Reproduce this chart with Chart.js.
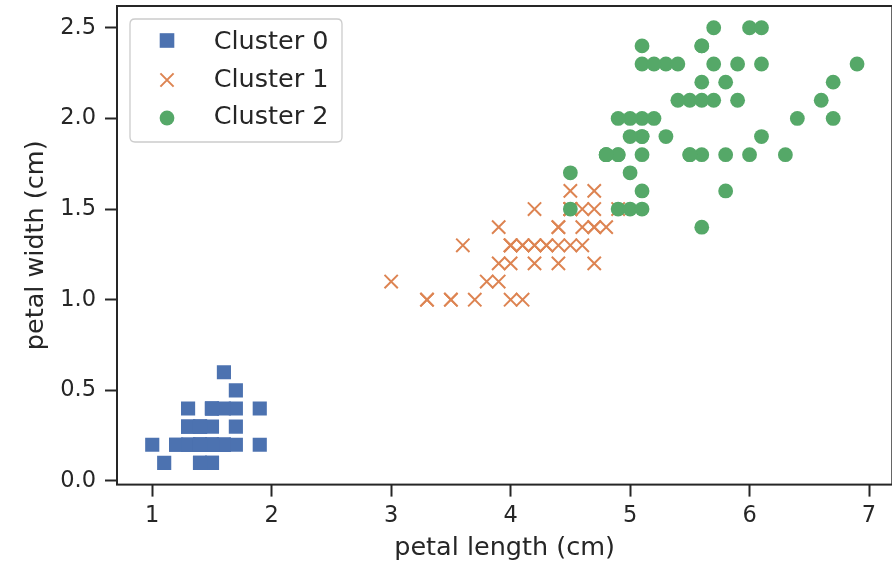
<!DOCTYPE html>
<html>
<head>
<meta charset="utf-8">
<script src="https://cdn.jsdelivr.net/npm/chart.js"></script>
<style>
html,body{margin:0;padding:0;overflow:hidden;background:#ffffff;}
#wrap{width:894px;height:563px;}
</style>
</head>
<body>
<div id="wrap"><canvas id="c" width="894" height="563"></canvas></div>
<script>
// ---------- data ----------
const clusterNames = ['Cluster 0', 'Cluster 1', 'Cluster 2'];

const cluster0Length = [1.4,1.4,1.3,1.5,1.4,1.7,1.4,1.5,1.4,1.5,1.5,1.6,1.4,1.1,1.2,1.5,1.3,1.4,1.7,1.5,
                        1.7,1.5,1.0,1.7,1.9,1.6,1.6,1.5,1.4,1.6,1.6,1.5,1.5,1.4,1.5,1.2,1.3,1.4,1.3,1.5,
                        1.3,1.3,1.3,1.6,1.9,1.4,1.6,1.4,1.5,1.4];
const cluster0Width  = [0.2,0.2,0.2,0.2,0.2,0.4,0.3,0.2,0.2,0.1,0.2,0.2,0.1,0.1,0.2,0.4,0.4,0.3,0.3,0.3,
                        0.2,0.4,0.2,0.5,0.2,0.2,0.4,0.2,0.2,0.2,0.2,0.4,0.1,0.2,0.2,0.2,0.2,0.1,0.2,0.2,
                        0.3,0.3,0.2,0.6,0.4,0.3,0.2,0.2,0.2,0.2];

const cluster1Length = [4.7,4.0,4.6,4.5,4.7,3.3,4.6,3.9,3.5,4.2,4.0,4.7,3.6,4.4,4.5,4.1,4.5,3.9,4.0,4.9,
                        4.7,4.3,4.4,4.8,4.5,3.5,3.8,3.7,3.9,4.5,4.5,4.7,4.4,4.1,4.0,4.4,4.6,4.0,3.3,4.2,
                        4.2,4.2,4.3,3.0,4.1];
const cluster1Width  = [1.4,1.3,1.5,1.3,1.6,1.0,1.3,1.4,1.0,1.5,1.0,1.4,1.3,1.4,1.5,1.0,1.5,1.1,1.3,1.5,
                        1.2,1.3,1.4,1.4,1.5,1.0,1.1,1.0,1.2,1.5,1.6,1.5,1.3,1.3,1.3,1.2,1.4,1.2,1.0,1.3,
                        1.2,1.3,1.3,1.1,1.3];

const cluster2Length = [4.5,4.8,4.9,5.0,5.1,
                        6.0,5.1,5.9,5.6,5.8,6.6,4.5,6.3,5.8,6.1,5.1,5.3,5.5,5.0,5.1,5.3,5.5,6.7,6.9,5.0,
                        5.7,4.9,6.7,4.9,5.7,6.0,4.8,4.9,5.6,5.8,6.1,6.4,5.6,5.1,5.6,6.1,5.6,5.5,4.8,5.4,
                        5.6,5.1,5.1,5.9,5.7,5.2,5.0,5.2,5.4,5.1];
const cluster2Width  = [1.5,1.8,1.5,1.7,1.6,
                        2.5,1.9,2.1,1.8,2.2,2.1,1.7,1.8,1.8,2.5,2.0,1.9,2.1,2.0,2.4,2.3,1.8,2.2,2.3,1.5,
                        2.3,2.0,2.0,1.8,2.1,1.8,1.8,1.8,2.1,1.6,1.9,2.0,2.2,1.5,1.4,2.3,2.4,1.8,1.8,2.1,
                        2.4,2.3,1.9,2.3,2.5,2.3,1.9,2.0,2.3,1.8];

const xTicks = [1, 2, 3, 4, 5, 6, 7];
const xTickLabels = ['1', '2', '3', '4', '5', '6', '7'];
const yTicks = [0, 0.5, 1.0, 1.5, 2.0, 2.5];
const yTickLabels = ['0.0', '0.5', '1.0', '1.5', '2.0', '2.5'];
const xTitle = 'petal length (cm)';
const yTitle = 'petal width (cm)';

// ---------- styling ----------
const FONT = "'DejaVu Sans', 'Liberation Sans', sans-serif";
const INK = '#262626';
const colors = ['#4c72b0', '#dd8452', '#55a868'];
const markerStyles = [
  { pointStyle: 'rect',     radius: 10,  borderWidth: 0 },
  { pointStyle: 'crossRot', radius: 9.4, borderWidth: 2 },
  { pointStyle: 'circle',   radius: 7.4, borderWidth: 0 }
];
const lengths = [cluster0Length, cluster1Length, cluster2Length];
const widths = [cluster0Width, cluster1Width, cluster2Width];

const datasets = clusterNames.map((name, i) => ({
  label: name,
  data: lengths[i].map((v, k) => ({ x: v, y: widths[i][k] })),
  showLine: false,
  pointStyle: markerStyles[i].pointStyle,
  pointRadius: markerStyles[i].radius,
  pointHoverRadius: markerStyles[i].radius,
  pointBorderWidth: markerStyles[i].borderWidth,
  pointHoverBorderWidth: markerStyles[i].borderWidth,
  pointBackgroundColor: colors[i],
  pointBorderColor: colors[i],
  backgroundColor: colors[i],
  borderColor: colors[i],
  order: 2 - i
}));

const CANVAS_H = 563;
const AREA = { left: 117, top: 6, right: 892.3, bottom: 484.6 };

const framePlugin = {
  id: 'frameAndLegend',
  afterDatasetsDraw(chart) {
    const { ctx, chartArea: a } = chart;
    ctx.save();
    ctx.strokeStyle = INK;
    ctx.lineWidth = 2;
    ctx.strokeRect(a.left, a.top, a.right - a.left, a.bottom - a.top);
    ctx.restore();
  },
  afterDraw(chart) {
    const ctx = chart.ctx;
    ctx.save();
    // legend box
    const bx = 130, by = 19, bw = 212, bh = 123, r = 5;
    ctx.beginPath();
    ctx.moveTo(bx + r, by);
    ctx.lineTo(bx + bw - r, by);
    ctx.quadraticCurveTo(bx + bw, by, bx + bw, by + r);
    ctx.lineTo(bx + bw, by + bh - r);
    ctx.quadraticCurveTo(bx + bw, by + bh, bx + bw - r, by + bh);
    ctx.lineTo(bx + r, by + bh);
    ctx.quadraticCurveTo(bx, by + bh, bx, by + bh - r);
    ctx.lineTo(bx, by + r);
    ctx.quadraticCurveTo(bx, by, bx + r, by);
    ctx.closePath();
    ctx.fillStyle = 'rgba(255,255,255,0.8)';
    ctx.fill();
    ctx.strokeStyle = '#cccccc';
    ctx.lineWidth = 1.3;
    ctx.stroke();

    const mx = 167;
    const markerY = [40.5, 80, 118];
    const textY = [42, 80, 117.5];
    // square
    ctx.fillStyle = colors[0];
    ctx.fillRect(mx - 7.3, markerY[0] - 7.3, 14.6, 14.6);
    // x
    ctx.strokeStyle = colors[1];
    ctx.lineWidth = 2;
    ctx.beginPath();
    ctx.moveTo(mx - 6.6, markerY[1] - 6.6); ctx.lineTo(mx + 6.6, markerY[1] + 6.6);
    ctx.moveTo(mx + 6.6, markerY[1] - 6.6); ctx.lineTo(mx - 6.6, markerY[1] + 6.6);
    ctx.stroke();
    // circle
    ctx.fillStyle = colors[2];
    ctx.beginPath();
    ctx.arc(mx, markerY[2], 7.4, 0, Math.PI * 2);
    ctx.fill();

    ctx.fillStyle = INK;
    ctx.font = '25.5px ' + FONT;
    ctx.textBaseline = 'middle';
    ctx.textAlign = 'left';
    clusterNames.forEach((n, i) => ctx.fillText(n, 213.7, textY[i]));
    ctx.restore();
  }
};

new Chart(document.getElementById('c'), {
  type: 'scatter',
  data: { datasets },
  options: {
    responsive: false,
    animation: false,
    devicePixelRatio: 1,
    events: [],
    layout: { autoPadding: false, padding: { left: 0, top: AREA.top, right: 894 - AREA.right, bottom: 0 } },
    plugins: { legend: { display: false }, tooltip: { enabled: false } },
    scales: {
      x: {
        type: 'linear',
        position: 'bottom',
        min: 0.705,
        max: 7.195,
        afterBuildTicks: s => { s.ticks = xTicks.map(v => ({ value: v })); },
        afterFit: s => { s.height = CANVAS_H - AREA.bottom; s.paddingLeft = 0; s.paddingRight = 0; },
        ticks: {
          callback: (v, i) => xTickLabels[i],
          font: { family: FONT, size: 22.5 },
          color: INK,
          padding: 6.4,
          maxRotation: 0,
          autoSkip: false
        },
        grid: { drawOnChartArea: false, drawTicks: true, tickLength: 12, tickWidth: 2, tickColor: INK },
        border: { display: false },
        title: { display: true, text: xTitle, color: INK, font: { family: FONT, size: 25.5, lineHeight: 1 }, padding: { top: 0, bottom: 1.75 } }
      },
      y: {
        type: 'linear',
        position: 'left',
        min: -0.02,
        max: 2.62,
        afterBuildTicks: s => { s.ticks = yTicks.map(v => ({ value: v })); },
        afterFit: s => { s.width = AREA.left; s.paddingTop = 0; s.paddingBottom = 0; },
        ticks: {
          callback: (v, i) => yTickLabels[i],
          font: { family: FONT, size: 22.5 },
          color: INK,
          padding: 9,
          autoSkip: false
        },
        grid: { drawOnChartArea: false, drawTicks: true, tickLength: 12, tickWidth: 2, tickColor: INK },
        border: { display: false },
        title: { display: true, text: yTitle, color: INK, font: { family: FONT, size: 25.5, lineHeight: 1 }, padding: { top: 23.6, bottom: 0 } }
      }
    }
  },
  plugins: [framePlugin]
});
</script>
</body>
</html>
